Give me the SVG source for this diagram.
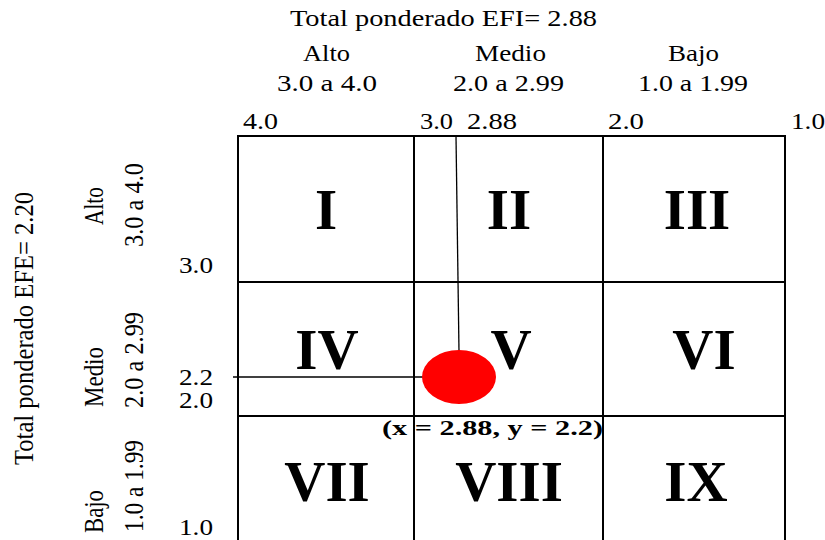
<svg xmlns="http://www.w3.org/2000/svg" width="825" height="540" viewBox="0 0 825 540">
<style>
text{font-family:"Liberation Serif","Times New Roman",serif;fill:#000}
.lbl{font-size:23px}
.num{font-size:23px}
.vl{font-size:24px}
.rn{font-size:57px;font-weight:bold;text-anchor:middle}
.pt{font-size:22px;font-weight:bold}
.grid{stroke:#000;stroke-width:2;fill:none}
.guide{stroke:#000;stroke-width:1.3;fill:none}
</style>
<rect width="825" height="540" fill="#fff"/>
<g id="top-labels">
<text class="lbl" x="290" y="26" textLength="307" lengthAdjust="spacingAndGlyphs">Total ponderado EFI= 2.88</text>
<text class="lbl" x="303" y="61" textLength="47" lengthAdjust="spacingAndGlyphs">Alto</text>
<text class="lbl" x="475" y="61" textLength="71" lengthAdjust="spacingAndGlyphs">Medio</text>
<text class="lbl" x="668" y="61" textLength="51" lengthAdjust="spacingAndGlyphs">Bajo</text>
<text class="lbl" x="277" y="91" textLength="100" lengthAdjust="spacingAndGlyphs">3.0 a 4.0</text>
<text class="lbl" x="453" y="91" textLength="111" lengthAdjust="spacingAndGlyphs">2.0 a 2.99</text>
<text class="lbl" x="638" y="91" textLength="110" lengthAdjust="spacingAndGlyphs">1.0 a 1.99</text>
<text class="num" x="243" y="129" textLength="35" lengthAdjust="spacingAndGlyphs">4.0</text>
<text class="num" x="420" y="129" textLength="33" lengthAdjust="spacingAndGlyphs">3.0</text>
<text class="num" x="467" y="129" textLength="50" lengthAdjust="spacingAndGlyphs">2.88</text>
<text class="num" x="608" y="129" textLength="36" lengthAdjust="spacingAndGlyphs">2.0</text>
<text class="num" x="791" y="129" textLength="34" lengthAdjust="spacingAndGlyphs">1.0</text>
</g>
<g id="left-labels">
<text class="vl" transform="translate(33,465) scale(1.16,1) rotate(-90)" textLength="273" lengthAdjust="spacingAndGlyphs">Total ponderado EFE= 2.20</text>
<text class="vl" transform="translate(103,225) scale(1.16,1) rotate(-90)" textLength="38" lengthAdjust="spacingAndGlyphs">Alto</text>
<text class="vl" transform="translate(143,247) scale(1.16,1) rotate(-90)" textLength="84" lengthAdjust="spacingAndGlyphs">3.0 a 4.0</text>
<text class="vl" transform="translate(103,407) scale(1.16,1) rotate(-90)" textLength="60" lengthAdjust="spacingAndGlyphs">Medio</text>
<text class="vl" transform="translate(143,408) scale(1.16,1) rotate(-90)" textLength="96" lengthAdjust="spacingAndGlyphs">2.0 a 2.99</text>
<text class="vl" transform="translate(103,533) scale(1.16,1) rotate(-90)" textLength="43" lengthAdjust="spacingAndGlyphs">Bajo</text>
<text class="vl" transform="translate(143,532) scale(1.16,1) rotate(-90)" textLength="92" lengthAdjust="spacingAndGlyphs">1.0 a 1.99</text>
<text class="num" x="179" y="273" textLength="34" lengthAdjust="spacingAndGlyphs">3.0</text>
<text class="num" x="179" y="385" textLength="34" lengthAdjust="spacingAndGlyphs">2.2</text>
<text class="num" x="179" y="408" textLength="34" lengthAdjust="spacingAndGlyphs">2.0</text>
<text class="num" x="179" y="535" textLength="34" lengthAdjust="spacingAndGlyphs">1.0</text>
</g>
<g id="point-label">
<text class="pt" x="382" y="435" textLength="221" lengthAdjust="spacingAndGlyphs">(x = 2.88, y = 2.2)</text>
</g>
<g id="cell-I"><text class="rn" x="326" y="229">I</text></g>
<g id="cell-II"><text class="rn" x="509" y="229">II</text></g>
<g id="cell-III"><text class="rn" x="697" y="229">III</text></g>
<g id="cell-IV"><text class="rn" x="327" y="369">IV</text></g>
<g id="cell-V"><text class="rn" x="511" y="369">V</text></g>
<g id="cell-VI"><text class="rn" x="704" y="369">VI</text></g>
<g id="cell-VII"><text class="rn" x="327" y="501">VII</text></g>
<g id="cell-VIII"><text class="rn" x="509" y="501">VIII</text></g>
<g id="cell-IX"><text class="rn" x="696" y="501">IX</text></g>
<g id="grid">
<line class="grid" x1="237" y1="136" x2="786" y2="136"/>
<line class="grid" x1="237" y1="282" x2="786" y2="282"/>
<line class="grid" x1="237" y1="416" x2="786" y2="416"/>
<line class="grid" x1="238" y1="135" x2="238" y2="540"/>
<line class="grid" x1="414" y1="135" x2="414" y2="540"/>
<line class="grid" x1="603" y1="135" x2="603" y2="540"/>
<line class="grid" x1="785" y1="135" x2="785" y2="540"/>
</g>
<g id="connectors">
<line class="guide" x1="456" y1="136" x2="459" y2="352"/>
<line class="guide" x1="233" y1="377" x2="424" y2="377"/>
</g>
<g id="point"><ellipse cx="459" cy="377" rx="37" ry="27" fill="#ff0000"/></g>
</svg>
